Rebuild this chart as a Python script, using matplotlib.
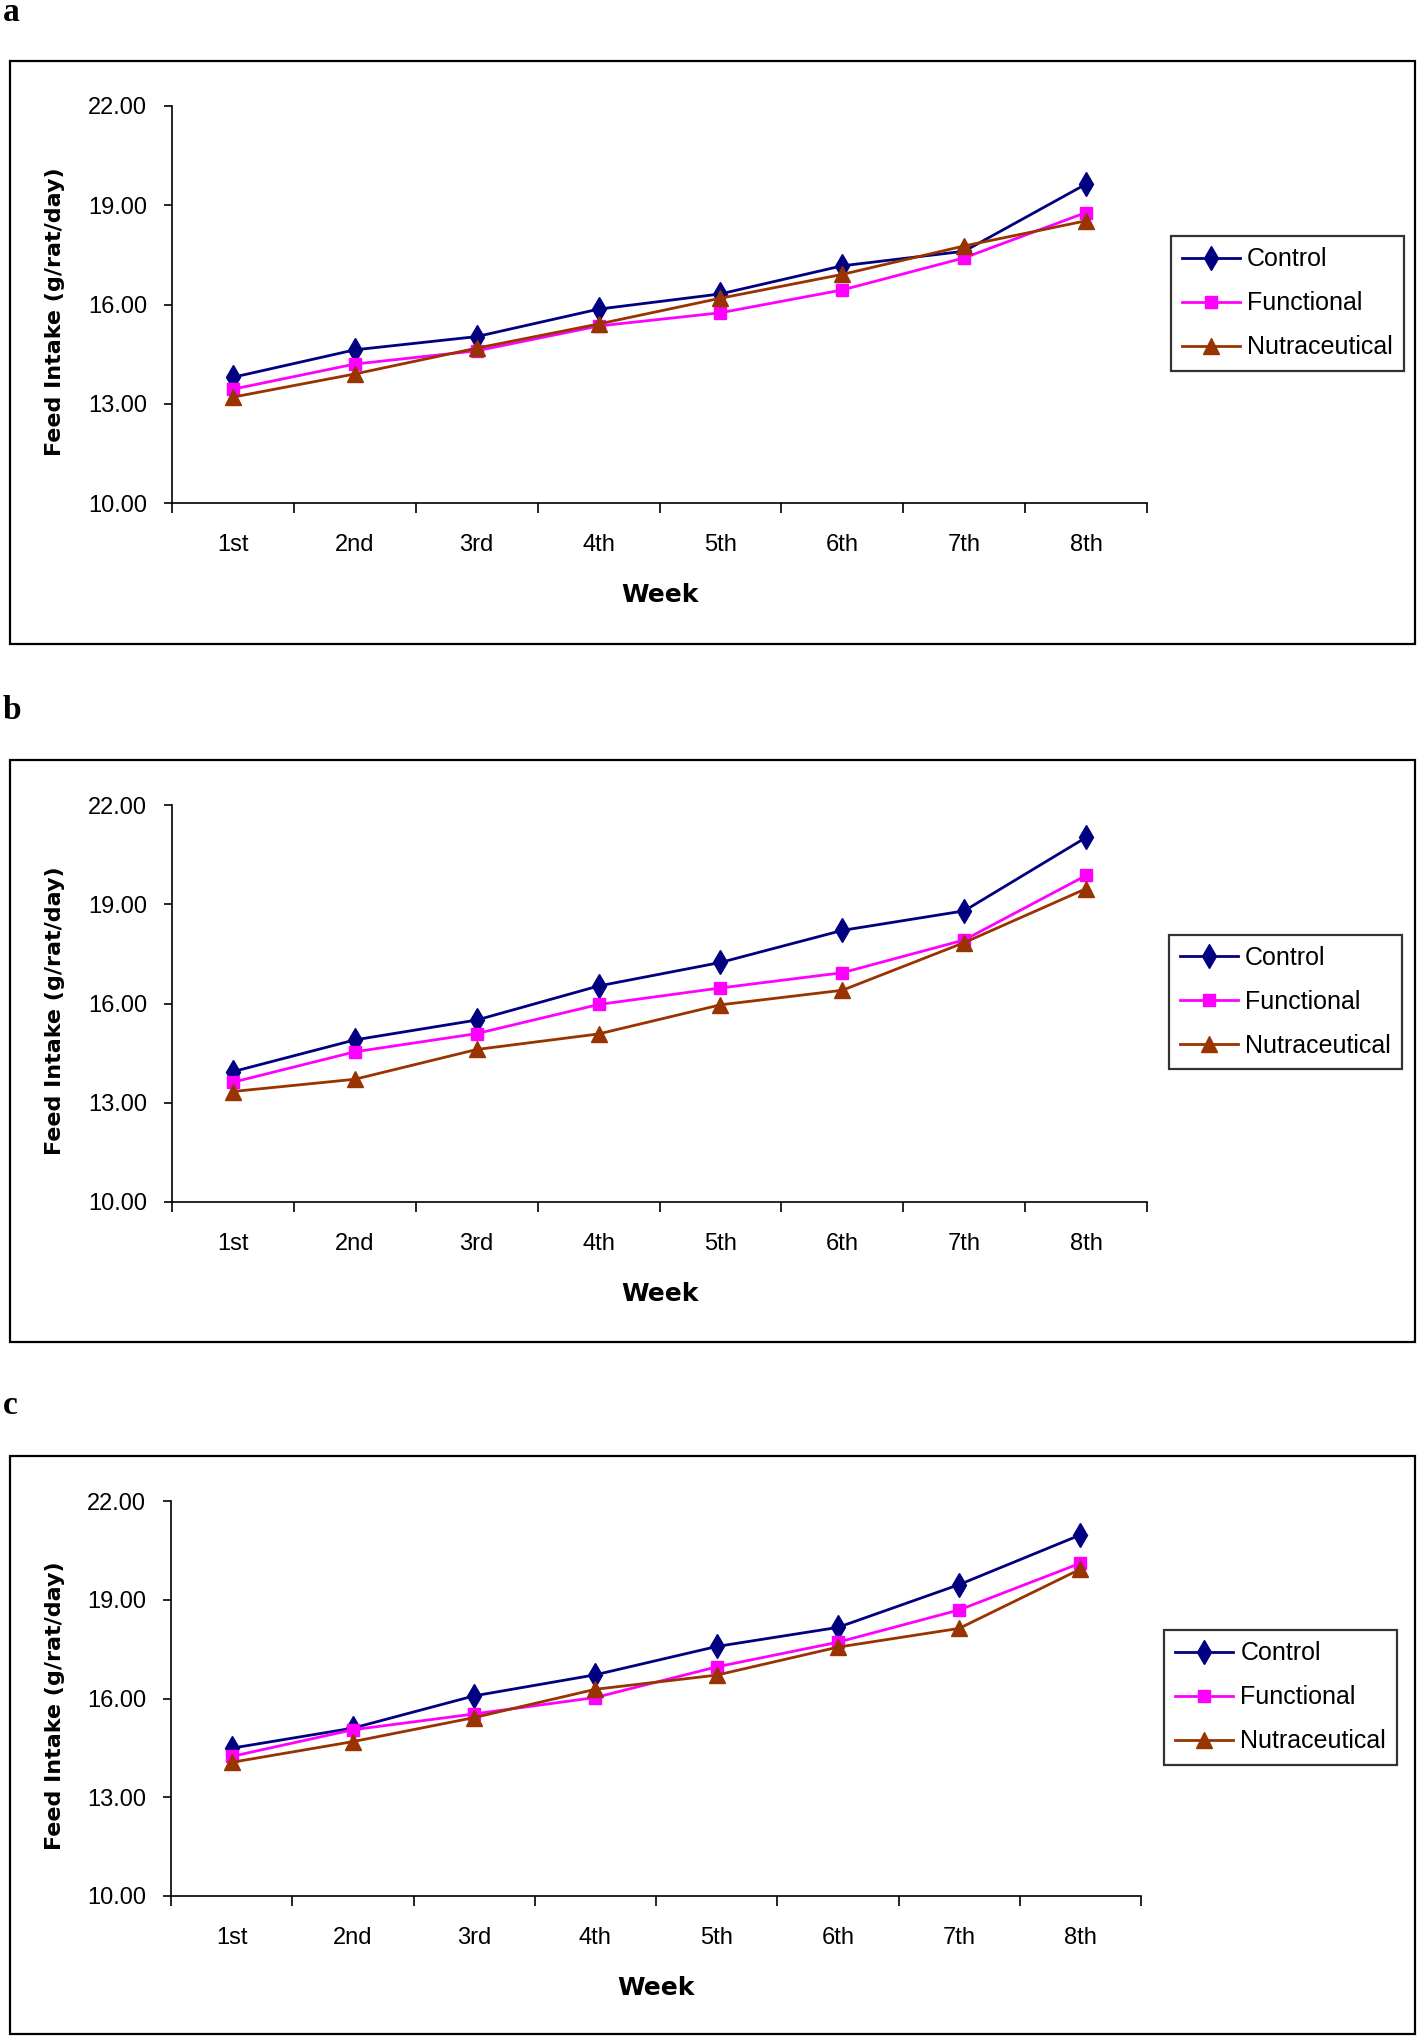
import matplotlib
matplotlib.use("Agg")
import matplotlib.pyplot as plt
from matplotlib.patches import Rectangle

plt.rcParams['font.family'] = ['Liberation Sans', 'DejaVu Sans']

# data (feed intake, g/rat/day)
weeks = ['1st', '2nd', '3rd', '4th', '5th', '6th', '7th', '8th']
series_names = ['Control', 'Functional', 'Nutraceutical']

control_a = [13.80, 14.63, 15.03, 15.86, 16.32, 17.17, 17.61, 19.64]
functional_a = [13.44, 14.20, 14.60, 15.35, 15.75, 16.44, 17.41, 18.78]
nutra_a = [13.20, 13.90, 14.68, 15.41, 16.19, 16.91, 17.77, 18.53]

control_b = [13.94, 14.90, 15.50, 16.53, 17.24, 18.21, 18.80, 21.02]
functional_b = [13.62, 14.54, 15.09, 15.97, 16.47, 16.93, 17.92, 19.87]
nutra_b = [13.34, 13.71, 14.61, 15.08, 15.96, 16.40, 17.84, 19.47]

control_c = [14.49, 15.10, 16.08, 16.72, 17.58, 18.16, 19.46, 20.97]
functional_c = [14.24, 15.05, 15.53, 16.03, 16.96, 17.71, 18.69, 20.11]
nutra_c = [14.06, 14.69, 15.42, 16.28, 16.71, 17.56, 18.13, 19.93]

y_ticks = [10, 13, 16, 19, 22]

W, H = 1418, 2037
fig = plt.figure(figsize=(W / 100, H / 100), dpi=100)

colors = ['#000080', '#FF00FF', '#993300']
markers = ['d', 's', '^']
msizes = [12, 9, 11]

# panel layout in pixels: label baseline, frame top/bottom, axes left/right/top/bottom, legend left/top
panels = [
    ('a', [control_a, functional_a, nutra_a], 21, 61, 644, 172, 1147, 106, 503, 1171, 236),
    ('b', [control_b, functional_b, nutra_b], 719, 760, 1342, 172, 1147, 805, 1202, 1169, 935),
    ('c', [control_c, functional_c, nutra_c], 1414, 1456, 2034, 171, 1141, 1501, 1896, 1164, 1630),
]

x = list(range(1, len(weeks) + 1))

for letter, data, lab_y, fr_top, fr_bot, ax_l, ax_r, ax_t, ax_b, leg_x, leg_y in panels:
    fig.add_artist(Rectangle((10 / W, 1 - fr_bot / H), 1405 / W, (fr_bot - fr_top) / H,
                             transform=fig.transFigure, fill=False, ec='black', lw=1.6))
    fig.text(3 / W, 1 - lab_y / H, letter, family='Liberation Serif', fontweight='bold',
             fontsize=24, va='baseline', ha='left')

    ax = fig.add_axes([ax_l / W, 1 - ax_b / H, (ax_r - ax_l) / W, (ax_b - ax_t) / H])
    for vals, name, c, m, ms in zip(data, series_names, colors, markers, msizes):
        ax.plot(x, vals, color=c, lw=2, marker=m, markersize=ms, label=name,
                markeredgecolor=c, markerfacecolor=c)

    ax.set_xlim(0.5, len(weeks) + 0.5)
    ax.set_ylim(10, 22)
    ax.set_yticks(y_ticks)
    ax.set_yticklabels(['%.2f' % v for v in y_ticks])
    ax.set_xticks([i + 0.5 for i in range(len(weeks) + 1)])
    ax.set_xticklabels([])
    ax.set_xticks(x, minor=True)
    ax.set_xticklabels(weeks, minor=True)
    ax.tick_params(axis='x', which='major', direction='out', length=7, width=1.2)
    ax.tick_params(axis='x', which='minor', length=0, pad=22, labelsize=17)
    ax.tick_params(axis='y', direction='out', length=6, width=1.2, pad=12, labelsize=17)

    for s in ['top', 'right']:
        ax.spines[s].set_visible(False)
    for s in ['left', 'bottom']:
        ax.spines[s].set_linewidth(1.2)

    # axis titles use a wider bold face, like the original
    ax.set_xlabel('Week', fontsize=18, fontweight='bold', family='DejaVu Sans')
    ax.xaxis.set_label_coords(0.5, -92 / (ax_b - ax_t))
    ax.xaxis.label.set_va('center')
    ax.set_ylabel('Feed Intake (g/rat/day)', fontsize=16, fontweight='bold', family='DejaVu Sans')
    ax.yaxis.set_label_coords(-(ax_l - 55) / (ax_r - ax_l), 0.483)
    ax.yaxis.label.set_va('center')

    leg = ax.legend(loc='upper left', bbox_to_anchor=(leg_x / W, 1 - leg_y / H),
                    bbox_transform=fig.transFigure, fontsize=18, frameon=True,
                    fancybox=False, edgecolor='black', handlelength=2.3,
                    handletextpad=0.3, labelspacing=0.8, borderpad=0.45,
                    borderaxespad=0)
    leg.get_frame().set_linewidth(1.6)

fig.savefig('out.png', dpi=100)
